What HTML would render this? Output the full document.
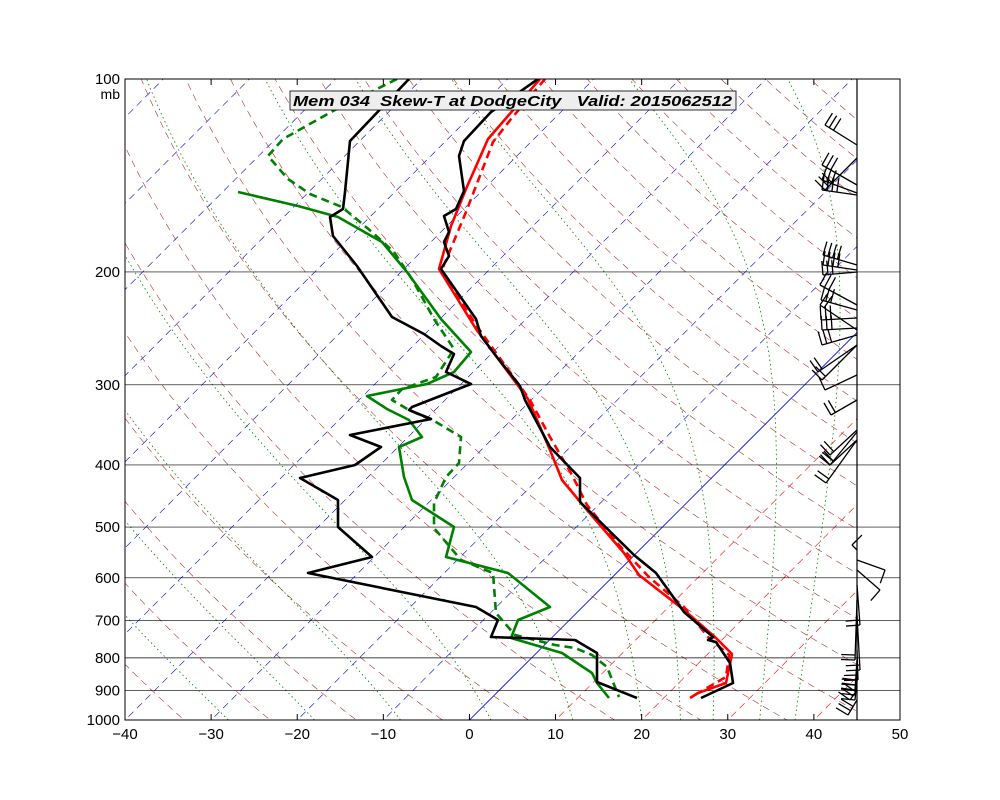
<!DOCTYPE html>
<html><head><meta charset="utf-8">
<style>
html,body{margin:0;padding:0;background:#fff;}
svg{display:block;font-family:"Liberation Sans",sans-serif;}
</style></head>
<body>
<svg id="s" width="1000" height="800" viewBox="0 0 1000 800" xmlns="http://www.w3.org/2000/svg">
<defs><clipPath id="c"><rect x="125" y="79" width="732" height="641"/></clipPath></defs>
<rect width="1000" height="800" fill="#fff"/>
<g id="bg" clip-path="url(#c)"></g>
<g id="data" clip-path="url(#c)" fill="none" stroke-width="2.6" stroke-linejoin="round"></g>
<g id="barbs" stroke="#000" stroke-width="1.3" fill="none"></g>
<g id="fr"></g>
<g id="lab" font-size="15" fill="#000"></g>
</svg>
<script>
var NS="http://www.w3.org/2000/svg";
function el(p,t,a){var e=document.createElementNS(NS,t);for(var k in a)e.setAttribute(k,a[k]);p.appendChild(e);return e;}
var bg=document.getElementById('bg'),dg=document.getElementById('data'),bb=document.getElementById('barbs'),fr=document.getElementById('fr'),lab=document.getElementById('lab');
function Y(p){return 79+641*Math.log10(p/100);}
function X(T,p){return 469.5+8.61*T+(720-Y(p));}
function path(pts,attrs){var d="M"+pts.map(function(q){return q[0].toFixed(1)+","+q[1].toFixed(1)}).join("L");attrs.d=d;return attrs;}
var ps=[];for(var p=1050;p>=95;p-=5)ps.push(p);
// isotherms
for(var T=-160;T<=60;T+=10){
  el(bg,'line',{x1:X(T,1050),y1:Y(1050),x2:X(T,95),y2:Y(95),stroke:T>0?'#ff0000':'#0000ff','stroke-width':T==0?0.8:0.6,'stroke-dasharray':T==0?'none':'7,5'});
}
// dry adiabats
for(var th=230;th<=480;th+=10){
  var pts=ps.map(function(p){return [X(th*Math.pow(p/1000,0.2857)-273.15,p),Y(p)]});
  el(bg,'path',path(pts,{fill:'none',stroke:'#b03030','stroke-width':0.6,'stroke-dasharray':'7,5'}));
}
// moist adiabats
function es(T){return 6.112*Math.exp(17.67*T/(T+243.5));}
function gam(T,p){var Tk=T+273.15,e=es(T),r=0.622*e/(p-e),Lv=2.5e6,Rd=287,cp=1005;
 var num=Rd*Tk/cp+Lv*r/cp, den=1+Lv*Lv*r*0.622/(cp*Rd*Tk*Tk);
 return num/den/p;}
[-28,-18,-8,2.5,12,20,24.5,28.3,33.7,37.8].forEach(function(T0){
  var T=T0,p=1000,pts=[];
  while(p>=100){pts.push([X(T,p),Y(p)]);T+=gam(T,p)*(-5);p-=5;}
  el(bg,'path',path(pts,{fill:'none',stroke:'#008000','stroke-width':0.8,'stroke-dasharray':'1.5,3'}));
});
// horizontal lines
[200,300,400,500,600,700,800,900].forEach(function(p){el(bg,'line',{x1:125,x2:900,y1:Y(p),y2:Y(p),stroke:'#000','stroke-width':0.7});});
[200,300,400,500,600,700,800,900].forEach(function(p){el(fr,'line',{x1:857,x2:900,y1:Y(p),y2:Y(p),stroke:'#000','stroke-width':0.7});});
function L(pts,c,dash){el(dg,'polyline',{points:pts.map(function(q){return q.join(',')}).join(' '),stroke:c,'stroke-dasharray':dash||'none'});}
var gs=[[238,192],[298,206],[338,217],[382,242],[407,272],[441,319],[471,352],[454,372],[427,384],[367,396],[387,409],[372,400],[409,420],[422,437],[399,447],[404,477],[412,500],[454,527],[446,557],[508,573],[550,607],[518,620],[511,638],[562,653],[592,673],[597,683],[609,698]];
gs.splice(11,1);
var gd=[[397,79],[333,111],[283,139],[268,156],[288,179],[310,194],[342,207],[372,232],[394,252],[412,279],[434,319],[454,349],[436,377],[402,389],[392,400],[409,410],[436,422],[461,437],[459,463],[446,477],[434,503],[434,528],[461,560],[493,573],[496,613],[515,635],[555,645],[575,648],[592,655],[607,667],[619,697]];
var rs=[[540,79],[488,139],[466,189],[451,226],[439,269],[476,329],[528,399],[550,450],[562,480],[587,510],[624,553],[639,575],[684,610],[716,638],[732,654],[726,683],[698,693],[690,698]];
var rd=[[545,79],[511,119],[493,142],[466,212],[441,272],[481,332],[530,400],[550,437],[572,475],[587,505],[619,545],[649,577],[684,607],[708,637],[729,655],[726,677],[693,696]];
var k1=[[409,79],[350,141],[345,192],[343,209],[330,217],[333,236],[357,266],[392,317],[424,334],[441,346],[454,354],[446,372],[471,384],[412,407],[436,400],[409,410],[431,419],[350,435],[381,447],[355,465],[300,478],[338,500],[338,527],[372,557],[308,573],[476,607],[498,620],[491,637],[575,640],[597,653],[597,682],[637,698]];
k1.splice(14,1);
var k2=[[538,79],[491,112],[464,141],[459,156],[464,191],[456,209],[444,216],[449,232],[444,242],[449,256],[441,269],[476,319],[481,336],[496,356],[520,386],[525,400],[550,447],[580,478],[580,502],[634,555],[656,573],[684,612],[713,637],[708,640],[716,642],[730,663],[733,683],[701,698]];
L(rd,'#ff0000','8,5');L(rs,'#ff0000');L(gd,'#008000','8,5');L(gs,'#008000');L(k1,'#000');L(k2,'#000');
// barbs
var bs=[[145,825,125,3],[158,825,190,3],[185,822,165,3],[193,822,180,3],[195,822,190,4],[265,823,255,4],[270,823,265,4],[272,823,275,3],[305,820,285,3],[310,821,300,3],[318,821,320,3],[328,822,330,3],[335,822,345,3],[330,820,305,2],[345,818,372,2],[345,822,380,2],[375,825,390,1],[400,831,415,2],[430,830,455,2],[432,830,465,2],[440,830,465,2],[440,826,483,2],[550,852,545,1],[560,885,570,1],[570,880,590,1],[585,860,625,2],[600,855,660,2],[615,860,670,2],[650,858,680,2],[660,855,690,3],[675,855,690,3],[680,855,700,3],[690,850,700,3],[700,848,715,3]];
bs.forEach(function(b){var y0=b[0],x1=b[1],y1=b[2],n=b[3];
 el(bb,'line',{x1:857,y1:y0,x2:x1,y2:y1});
 var dx=x1-857,dy=y1-y0,len=Math.hypot(dx,dy),ux=dx/len,uy=dy/len;
 for(var i=0;i<n;i++){var bx=x1-ux*i*5,by=y1-uy*i*5;el(bb,'line',{x1:bx,y1:by,x2:bx-uy*14,y2:by+ux*14});}
});
// frame
el(fr,'rect',{x:125,y:79,width:775,height:641,fill:'none',stroke:'#000','stroke-width':1});
el(fr,'line',{x1:857,x2:857,y1:79,y2:720,stroke:'#000','stroke-width':1.2});
for(var t=-40;t<=50;t+=10){var x=125+(t+40)*8.611;
 el(fr,'line',{x1:x,x2:x,y1:720,y2:714,stroke:'#000'});el(fr,'line',{x1:x,x2:x,y1:79,y2:85,stroke:'#000'});
 var tx=el(lab,'text',{x:x,y:739,'text-anchor':'middle'});tx.textContent=(t<0?'\u2212'+(-t):t);}
[100,200,300,400,500,600,700,800,900,1000].forEach(function(p){var tx=el(lab,'text',{x:120,y:Y(p)+5,'text-anchor':'end'});tx.textContent=p;});
var mb=el(lab,'text',{x:120,y:99,'text-anchor':'end','font-size':14});mb.textContent='mb';
el(fr,'rect',{x:290,y:91,width:446,height:19,fill:'#eeeeee',stroke:'#000','stroke-width':0.8});
var tt=el(lab,'text',{x:293,y:106,'font-weight':'bold','font-style':'italic','font-size':15,textLength:439,lengthAdjust:'spacingAndGlyphs'});tt.textContent='Mem 034  Skew-T at DodgeCity   Valid: 2015062512';
tt.style.whiteSpace='pre';
</script>
</body></html>
